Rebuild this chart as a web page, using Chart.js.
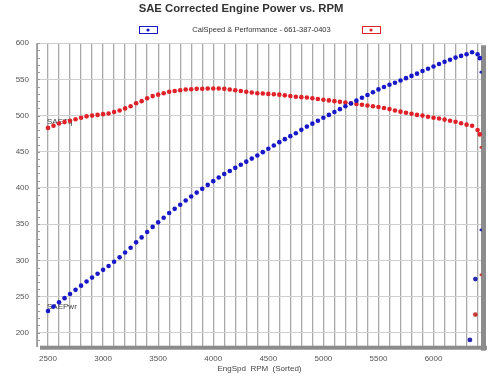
<!DOCTYPE html>
<html>
<head>
<meta charset="utf-8">
<script src="https://cdn.jsdelivr.net/npm/chart.js@4.4.0/dist/chart.umd.min.js"></script>
<style>
  html, body { margin: 0; padding: 0; background: #fff; }
  #wrap { width: 500px; height: 392px; position: relative; }
</style>
</head>
<body>
<div id="wrap"><canvas id="dyno"></canvas></div>
<script>
// --- DATA ---
const rpm = [2500, 2550, 2600, 2650, 2700, 2750, 2800, 2850, 2900, 2950,
  3000, 3050, 3100, 3150, 3200, 3250, 3300, 3350, 3400, 3450,
  3500, 3550, 3600, 3650, 3700, 3750, 3800, 3850, 3900, 3950,
  4000, 4050, 4100, 4150, 4200, 4250, 4300, 4350, 4400, 4450,
  4500, 4550, 4600, 4650, 4700, 4750, 4800, 4850, 4900, 4950,
  5000, 5050, 5100, 5150, 5200, 5250, 5300, 5350, 5400, 5450,
  5500, 5550, 5600, 5650, 5700, 5750, 5800, 5850, 5900, 5950,
  6000, 6050, 6100, 6150, 6200, 6250, 6300, 6350, 6400, 6420];
const torque = [483, 486, 489, 491, 493, 495, 497, 499, 500, 501,
  502, 503, 505, 507, 510, 513, 517, 520, 524, 527,
  529, 531, 533, 534, 535, 536, 536.5, 537, 537, 537.5,
  537.5, 537.5, 537, 536, 535, 534, 533, 532, 531, 530.5,
  530, 529.5, 529, 528, 527, 526, 525.5, 525, 524, 523,
  522, 521, 520, 519, 518, 517, 516, 515, 514, 513,
  512, 510.5, 509, 507, 505.5, 504, 502.5, 501, 500, 498.5,
  497, 496, 494.5, 493, 491.5, 489.5, 487.5, 486, 480, 474];
const power = [230, 236, 242.1, 247.7, 253.4, 259.2, 265, 270.8, 276.1, 281.4,
  286.8, 292.1, 298.1, 304.1, 310.7, 317.4, 324.8, 331.7, 339.2, 346.2,
  352.5, 358.9, 365.3, 371.1, 376.9, 382.7, 388.2, 393.6, 398.8, 404.2,
  409.4, 414.5, 419.2, 423.5, 427.8, 432.1, 436.4, 440.6, 444.9, 449.5,
  454.1, 458.7, 463.3, 467.5, 471.6, 475.7, 480.3, 484.8, 488.9, 492.9,
  497, 501, 505, 508.9, 512.9, 516.8, 520.7, 524.6, 528.5, 532.3,
  536.2, 539.5, 542.7, 545.4, 548.6, 551.8, 554.9, 558, 561.7, 564.7,
  567.8, 571.4, 574.3, 577.3, 580.2, 582.5, 584.8, 587.6, 584.9, 579.4];

// stray readings at the end of the pull
const pwrStrayRpm = [6330, 6380, 6430, 6430];
const pwrStray = [190, 274, 342, 560];
const pwrStraySize = [2.4, 2.4, 1.4, 1.4];
const trqStrayRpm = [6380, 6430, 6430];
const trqStray = [225, 280, 456];
const trqStraySize = [2.4, 1.4, 1.4];

const seriesNames = ['SAEPwr', 'SAETq'];
const xTicks = [2400, 2500, 2600, 2700, 2800, 2900, 3000, 3100, 3200, 3300, 3400, 3500, 3600, 3700,
  3800, 3900, 4000, 4100, 4200, 4300, 4400, 4500, 4600, 4700, 4800, 4900, 5000, 5100, 5200,
  5300, 5400, 5500, 5600, 5700, 5800, 5900, 6000, 6100, 6200, 6300, 6400];
const yTicks = [200, 250, 300, 350, 400, 450, 500, 550, 600];

const pts = (xs, ys) => xs.map((v, i) => ({ x: v, y: ys[i] }));
const BLUE = '#1818c8';
const RED = '#e02228';

// --- DECOR: frame, minor ticks, curve names, legend row ---
const dynoDecor = {
    id: 'dynoDecor',
    beforeDatasetsDraw(chart) {
        const { ctx, chartArea: a, scales: { x, y } } = chart;
        ctx.save();
        ctx.strokeStyle = '#9a9a9a';
        ctx.lineWidth = 1;
        for (let v = 190; v <= 600; v += 10) {
            const py = Math.round(y.getPixelForValue(v)) + 0.5;
            ctx.beginPath(); ctx.moveTo(a.left, py); ctx.lineTo(a.left + 3, py); ctx.stroke();
        }
        ctx.fillStyle = '#8c8c8c';
        ctx.fillRect(a.left + 3, a.bottom - 1, a.right - a.left + 2, 4);
        ctx.fillRect(a.right - 1, a.top + 2, 5, a.bottom - a.top + 2);

        ctx.fillStyle = '#444';
        ctx.font = '8px "Liberation Sans", Arial, sans-serif';
        ctx.textBaseline = 'middle';
        ctx.fillText(seriesNames[0], x.getPixelForValue(rpm[0]) - 1, y.getPixelForValue(power[0]) - 4);
        ctx.fillText(seriesNames[1], x.getPixelForValue(rpm[0]) - 1, y.getPixelForValue(torque[0]) - 6);
        ctx.restore();
    },
    afterDraw(chart) {
        const { ctx } = chart;
        ctx.save();
        const box = (cx, col) => {
            ctx.fillStyle = '#fff';
            ctx.fillRect(cx - 9, 26.5, 18, 7);
            ctx.strokeStyle = col; ctx.lineWidth = 1;
            ctx.strokeRect(cx - 9 + 0.5, 26.5, 18, 7);
            ctx.fillStyle = col;
            ctx.beginPath(); ctx.arc(cx, 30, 1.6, 0, Math.PI * 2); ctx.fill();
        };
        box(148, BLUE);
        box(371, RED);
        ctx.fillStyle = '#333';
        ctx.font = '7.5px "Liberation Sans", Arial, sans-serif';
        ctx.textAlign = 'center';
        ctx.textBaseline = 'middle';
        ctx.fillText('CalSpeed & Performance - 661-387-0403', 261.5, 30);
        ctx.restore();
    }
};

new Chart(document.getElementById('dyno'), {
    type: 'scatter',
    data: {
        datasets: [
            { label: seriesNames[0], data: pts(rpm, power), pointRadius: 2.3, pointBorderWidth: 0, pointBackgroundColor: BLUE },
            { label: seriesNames[1], data: pts(rpm, torque), pointRadius: 2.3, pointBorderWidth: 0, pointBackgroundColor: RED },
            { label: 'pwr stray', data: pts(pwrStrayRpm, pwrStray), pointRadius: pwrStraySize, pointBorderWidth: 0, pointBackgroundColor: '#2a2ab0' },
            { label: 'trq stray', data: pts(trqStrayRpm, trqStray), pointRadius: trqStraySize, pointBorderWidth: 0, pointBackgroundColor: '#c83a3a' }
        ]
    },
    options: {
        responsive: true,
        maintainAspectRatio: false,
        animation: false,
        layout: { padding: { left: 0, right: 18, top: 0, bottom: 0 } },
        plugins: {
            legend: { display: false },
            tooltip: { enabled: false },
            title: {
                display: true,
                text: 'SAE Corrected Engine Power vs. RPM',
                color: '#333',
                font: { family: '"Liberation Sans", Arial, sans-serif', size: 11.3, weight: 'bold' },
                padding: { top: 2, bottom: 27.7 }
            }
        },
        scales: {
            x: {
                type: 'linear',
                min: 2400,
                max: 6440,
                afterBuildTicks: (s) => { s.ticks = xTicks.map(v => ({ value: v })); },
                afterFit: (s) => { s.height = 45.3; },
                grid: { color: '#a9a9a9', lineWidth: 1.3, drawTicks: false },
                border: { display: false },
                ticks: {
                    padding: 7,
                    color: '#555',
                    font: { family: '"Liberation Sans", Arial, sans-serif', size: 8 },
                    autoSkip: false,
                    maxRotation: 0,
                    callback: (v) => (v % 500 === 0 ? v : '')
                },
                title: {
                    display: true,
                    text: 'EngSpd  RPM  (Sorted)',
                    color: '#444',
                    font: { family: '"Liberation Sans", Arial, sans-serif', size: 8 },
                    padding: { top: 0, bottom: 18 }
                }
            },
            y: {
                min: 180.6,
                max: 600,
                afterBuildTicks: (s) => { s.ticks = yTicks.map(v => ({ value: v })); },
                afterFit: (s) => { s.width = 37; },
                grid: { color: '#cfcfcf', lineWidth: 1, drawTicks: false },
                border: { display: true, color: '#9a9a9a', width: 1 },
                ticks: {
                    padding: 8,
                    color: '#555',
                    font: { family: '"Liberation Sans", Arial, sans-serif', size: 8 }
                }
            }
        }
    },
    plugins: [dynoDecor]
});
</script>
</body>
</html>
